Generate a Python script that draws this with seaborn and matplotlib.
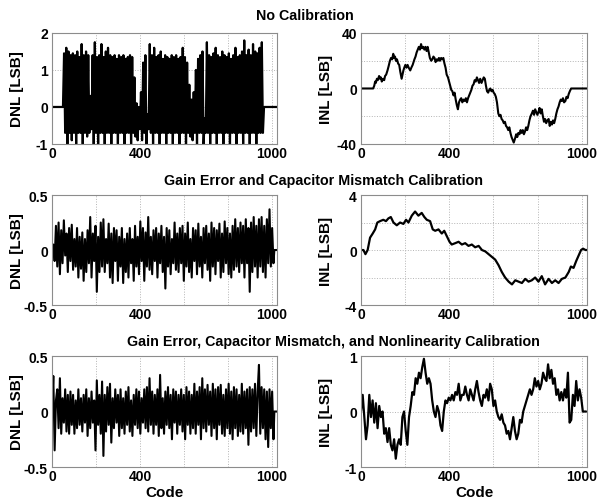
import numpy as np
import pandas as pd
import seaborn as sns
import matplotlib
matplotlib.use("Agg")
import matplotlib.pyplot as plt

sns.set_style("white")
plt.rcParams['font.family'] = ['Liberation Sans', 'DejaVu Sans']
plt.rcParams['font.weight'] = 'bold'
plt.rcParams['text.color'] = 'black'
plt.rcParams['axes.labelcolor'] = 'black'

# ---- row titles ----
ROW_TITLES = ["No Calibration",
              "Gain Error and Capacitor Mismatch Calibration",
              "Gain Error, Capacitor Mismatch, and Nonlinearity Calibration"]

# ---- x axis (codes) ----
XTICKS = [0, 200, 400, 600, 800, 1000]
XTICK_LABELS = ["0", "", "400", "", "", "1000"]

# ---- No calibration: DNL (codes 55..960 step 5, zero outside) ----
dnl_nocal = [
    1.45, -0.7, 1.6, -1.0, 1.5, -0.7, 1.4, -0.9, 1.45, -0.7,
    1.4, -1.0, 1.5, -0.7, 1.35, -0.7, 1.7, -1.0, 1.4, -0.7,
    1.5, -0.8, 1.4, -0.7, 0.3, -0.6, 1.4, -1.0, 1.75, -0.7,
    1.35, -1.0, 1.4, -0.7, 1.7, -0.7, 1.35, -1.0, 1.5, -0.7,
    1.6, -0.7, 1.4, -1.0, 1.35, -0.7, 1.4, -0.7, 1.3, -1.0,
    1.4, -0.7, 1.35, -0.7, 1.4, -1.0, 1.3, -0.7, 1.35, -0.7,
    1.4, -1.0, 1.35, -0.7, 0.8, -0.8, 0.1, -0.9, 0.0, -0.6,
    0.4, -0.9, 1.2, -0.7, 1.4, -1.0, -0.2, -0.6, 1.7, -0.7,
    1.4, -1.0, 1.6, -0.7, 1.35, -0.7, 1.4, -1.0, 1.5, -0.7,
    1.3, -0.7, 1.4, -1.0, 1.35, -0.7, 1.3, -0.7, 1.4, -1.0,
    1.35, -0.7, 1.4, -0.7, 1.3, -1.0, 1.35, -0.7, 1.6, -0.7,
    1.35, -1.0, 1.2, -0.7, 0.6, -0.8, 0.2, -0.9, 0.4, -0.7,
    1.0, -1.0, 1.3, -0.7, 1.4, -0.7, 1.5, -1.0, -0.3, -0.7,
    1.75, -0.7, 1.4, -1.0, 1.35, -0.7, 1.45, -0.7, 1.6, -1.0,
    1.4, -0.7, 1.35, -0.7, 1.5, -1.0, 1.4, -0.7, 1.35, -0.7,
    1.45, -1.0, 1.3, -0.7, 1.4, -0.7, 1.6, -1.0, 1.35, -0.7,
    1.4, -0.7, 1.5, -1.0, 1.8, -0.7, 1.4, -0.7, 1.55, -1.0,
    1.4, -0.7, 1.7, -0.7, 1.5, -1.0, 1.45, -0.7, 1.6, -0.7,
    1.75, -0.7]
dnl_nocal_code = [0, 50] + list(range(55, 965, 5)) + [965, 1024]
dnl_nocal = [0, 0] + dnl_nocal + [0, 0]

# ---- No calibration: INL ----
inl_nocal_code = [
    0, 55, 60, 64, 67, 72, 76, 82, 86, 90, 94, 100, 105, 109, 114, 120,
    125, 131, 136, 141, 146, 150, 154, 158, 163, 168, 173, 178, 184, 188,
    192, 196, 201, 206, 211, 216, 223, 228, 234, 238, 242, 247, 252, 257,
    262, 267, 272, 277, 282, 287, 292, 297, 302, 307, 312, 318, 323, 328,
    333, 338, 343, 348, 353, 358, 363, 368, 373, 378, 383, 388, 394, 399,
    404, 409, 414, 419, 424, 429, 434, 439, 444, 449, 454, 459, 464, 470,
    475, 480, 485, 490, 495, 500, 505, 510, 515, 520, 525, 530, 535, 540,
    546, 551, 556, 561, 566, 571, 576, 581, 586, 591, 596, 601, 606, 611,
    616, 622, 627, 632, 637, 642, 647, 652, 657, 662, 667, 672, 677, 682,
    687, 692, 698, 703, 708, 713, 718, 723, 728, 733, 738, 743, 748, 753,
    758, 763, 768, 774, 779, 784, 789, 794, 799, 804, 809, 814, 819, 824,
    829, 834, 839, 844, 850, 855, 860, 865, 870, 875, 880, 885, 890, 895,
    900, 905, 910, 915, 920, 926, 931, 936, 941, 946, 952, 1024]
inl_nocal = [
    0, 0, 2, 5, 4, 7, 6, 9, 7, 8, 5, 7, 6, 9, 10, 13,
    16, 20, 22, 21, 25, 22, 23, 20, 21, 18, 17, 12, 7, 10,
    13, 15, 17, 15, 17, 15, 13, 15, 17, 19, 21, 23, 26, 28,
    30, 28, 32, 29, 30, 28, 30, 27, 30, 26, 22, 20, 21, 23,
    22, 19, 21, 20, 22, 20, 22, 21, 22, 18, 15, 10, 8, 5,
    2, -1, -2, -5, -3, -8, -12, -15, -10, -8, -7, -10, -8, -9,
    -7, -10, -7, -5, -3, -1, 2, 3, 6, 5, 8, 6, 4, 7,
    4, 6, 8, 7, 2, -2, -3, -1, 0, -2, -1, -3, -4, -6,
    -10, -18, -20, -19, -22, -23, -25, -24, -27, -28, -30, -28, -32, -35,
    -37, -39, -36, -33, -35, -32, -33, -30, -32, -30, -33, -31, -28, -30,
    -27, -23, -20, -18, -16, -19, -15, -17, -19, -17, -14, -18, -15, -20,
    -24, -22, -25, -23, -22, -27, -24, -26, -23, -25, -22, -18, -15, -13,
    -10, -8, -9, -7, -10, -9, -6, -7, -4, -2, 0, 0]

# ---- Gain + cap mismatch calibration: DNL (codes 6..1008 step 6) ----
dnl_gc = [
    0.05, -0.1, 0.22, -0.15, 0.25, -0.22, 0.18, -0.12, 0.27, -0.05, 0.15, -0.2,
    0.2, -0.1, 0.23, -0.18, 0.1, -0.15, 0.2, -0.25, 0.12, -0.17, 0.16, -0.28,
    0.1, -0.2, 0.18, -0.12, 0.3, -0.25, 0.15, -0.1, 0.22, -0.38, 0.12, -0.2,
    0.25, -0.15, 0.28, -0.2, 0.1, -0.12, 0.24, -0.25, 0.15, -0.3, 0.2, -0.1,
    0.18, -0.28, 0.12, -0.15, 0.2, -0.3, 0.1, -0.2, 0.15, -0.25, 0.2, -0.12,
    0.1, -0.28, 0.22, -0.15, 0.12, -0.22, 0.26, -0.1, 0.2, -0.28, 0.16, -0.15,
    0.3, -0.18, 0.12, -0.22, 0.18, -0.1, 0.2, -0.25, 0.15, -0.12, 0.22, -0.2,
    0.12, -0.35, 0.2, -0.15, 0.18, -0.22, 0.1, -0.12, 0.25, -0.18, 0.15, -0.2,
    0.2, -0.12, 0.22, -0.28, 0.15, -0.15, 0.25, -0.2, 0.1, -0.25, 0.2, -0.1,
    0.18, -0.22, 0.24, -0.15, 0.12, -0.25, 0.2, -0.12, 0.22, -0.18, 0.15, -0.28,
    0.25, -0.15, 0.2, -0.22, 0.18, -0.1, 0.24, -0.25, 0.15, -0.2, 0.26, -0.12,
    0.2, -0.22, 0.15, -0.25, 0.22, -0.18, 0.28, -0.15, 0.2, -0.2, 0.25, -0.12,
    0.22, -0.25, 0.28, -0.12, 0.2, -0.38, 0.25, -0.2, 0.3, -0.15, 0.22, -0.25,
    0.28, -0.15, 0.3, -0.2, 0.22, -0.25, 0.28, -0.12, 0.37, -0.15, 0.2, -0.12]
dnl_gc_code = [0] + list(range(6, 1012, 6)) + [1012, 1024]
dnl_gc = [0] + dnl_gc + [0, 0]

# ---- Gain + cap mismatch calibration: INL ----
inl_gc_code = [0, 11, 20, 30, 41, 53, 64, 74, 86, 101,
               113, 124, 135, 147, 162, 177, 192, 204, 215, 230,
               245, 260, 275, 287, 298, 313, 325, 336, 351, 366,
               377, 389, 401, 411, 427, 442, 457, 472, 487, 502,
               517, 533, 548, 563, 578, 593, 608, 623, 638, 653,
               669, 684, 699, 714, 729, 744, 759, 774, 789, 804,
               819, 834, 850, 865, 880, 895, 910, 926, 941, 951,
               963, 975, 986, 997, 1006, 1017, 1024]
inl_gc = [0, 0, -0.3, 0, 0.9, 1.2, 1.5, 2.0, 2.1, 2.2,
          2.1, 2.3, 2.4, 2.0, 1.8, 2.0, 1.9, 2.2, 2.0, 2.5,
          2.8, 2.5, 2.7, 2.4, 2.2, 2.1, 1.5, 1.4, 1.5, 1.2,
          1.4, 1.0, 0.6, 0.4, 0.5, 0.6, 0.4, 0.5, 0.3, 0.4,
          0.2, 0.3, 0.0, -0.1, -0.3, -0.5, -0.7, -1.1, -1.6, -2.0,
          -2.3, -2.5, -2.2, -2.3, -2.4, -2.1, -2.3, -2.2, -2.0, -2.3,
          -1.9, -2.5, -2.1, -2.4, -2.2, -2.4, -2.1, -2.0, -1.6, -1.2,
          -1.3, -0.8, -0.4, 0.0, 0.1, 0.0, 0]

# ---- Full calibration: DNL (codes 6..1008 step 6) ----
dnl_full = [
    0.32, -0.35, 0.1, 0.2, -0.15, 0.3, -0.2, 0.12, -0.1, 0.2, -0.18, 0.15,
    -0.2, 0.18, -0.12, 0.15, -0.2, 0.1, -0.15, 0.2, -0.12, 0.12, -0.18, 0.15,
    -0.1, 0.2, -0.22, 0.12, -0.15, 0.18, -0.1, 0.1, -0.35, 0.28, -0.12, 0.15,
    -0.2, 0.27, -0.4, 0.15, -0.18, 0.22, -0.12, 0.25, -0.28, 0.12, -0.15, 0.2,
    -0.1, 0.15, -0.22, 0.2, -0.15, 0.12, -0.2, 0.18, -0.12, 0.22, -0.18, 0.1,
    -0.22, 0.15, -0.12, 0.2, -0.15, 0.18, -0.2, 0.12, -0.1, 0.2, -0.15, 0.22,
    -0.18, 0.3, -0.12, 0.18, -0.2, 0.15, -0.12, 0.2, -0.22, 0.33, -0.15, 0.12,
    -0.2, 0.18, -0.12, 0.22, -0.15, 0.15, -0.25, 0.2, -0.1, 0.18, -0.2, 0.15,
    -0.12, 0.2, -0.18, 0.15, -0.25, 0.22, -0.12, 0.18, -0.2, 0.15, -0.15, 0.25,
    -0.2, 0.18, -0.12, 0.22, -0.25, 0.3, -0.15, 0.2, -0.18, 0.24, -0.12, 0.18,
    -0.22, 0.25, -0.15, 0.2, -0.25, 0.22, -0.12, 0.24, -0.2, 0.15, -0.22, 0.2,
    -0.15, 0.25, -0.2, 0.18, -0.25, 0.22, -0.15, 0.2, -0.22, 0.15, -0.18, 0.25,
    -0.2, 0.18, -0.15, 0.2, -0.3, 0.22, -0.18, 0.2, -0.15, 0.25, -0.22, 0.18,
    0.42, -0.2, 0.22, -0.15, 0.2, -0.25, 0.18, -0.32, 0.2, -0.15, 0.18, -0.25]
dnl_full_code = [0] + list(range(6, 1012, 6)) + [1012, 1024]
dnl_full = [0] + dnl_full + [0, 0]

# ---- Full calibration: INL (read every 7.5 codes) ----
inl_full = [
    0, 0.3, -0.1, -0.5, -0.25, 0.3, -0.1, 0.2, -0.2, 0.15,
    -0.3, 0.1, -0.1, 0.0, -0.4, -0.3, -0.55, -0.3, -0.6, -0.7,
    -0.5, -0.85, -0.6, -0.5, -0.6, -0.1, 0.0, -0.35, -0.6, -0.1,
    0.1, 0.35, 0.3, 0.6, 0.5, 0.7, 0.6, 0.8, 0.95, 0.7,
    0.5, 0.6, 0.5, 0.2, 0.0, -0.1, 0.1, 0.0, -0.25, -0.35,
    0.0, 0.2, 0.15, 0.25, 0.2, 0.3, 0.2, 0.35, 0.3, 0.5,
    0.2, 0.3, 0.3, 0.45, 0.3, 0.2, 0.4, 0.3, 0.2, 0.4,
    0.55, 0.35, 0.2, 0.1, 0.3, 0.25, 0.4, 0.2, 0.5, 0.4,
    0.1, 0.2, 0.0, -0.1, -0.15, -0.05, -0.2, -0.25, -0.4, -0.35,
    -0.5, -0.3, -0.1, -0.35, -0.5, -0.4, -0.15, -0.2, 0.0, 0.1,
    0.2, 0.3, 0.4, 0.3, 0.4, 0.6, 0.45, 0.55, 0.4, 0.5,
    0.7, 0.6, 0.55, 0.85, 0.6, 0.75, 0.5, 0.6, 0.3, 0.4,
    0.2, 0.35, 0.2, 0.4, 0.25, 0.7, -0.2, -0.15, 0.3, 0.1,
    0.55, 0.2, 0.4, 0.25, 0.0, 0.0, 0.0]
inl_full_code = np.arange(len(inl_full)) * 7.5


def draw_panel(ax, x, y, ylim, yticks, yticklabels, ylabel, lw, xlabel=False):
    """Draw one DNL/INL panel in the black-on-white MATLAB look."""
    df = pd.DataFrame({"Code": x, "val": y})
    sns.lineplot(data=df, x="Code", y="val", ax=ax, color="black", lw=lw,
                 estimator=None, sort=False)
    ax.set_xlim(0, 1024)
    ax.set_ylim(ylim)
    ax.set_xticks(XTICKS)
    ax.set_xticklabels(XTICK_LABELS)
    ax.set_yticks(yticks)
    ax.set_yticklabels(yticklabels)
    ax.grid(True, ls=":", color="#b4b4b4", lw=0.7)
    ax.set_axisbelow(True)
    for s in ax.spines.values():
        s.set_color("#8c8c8c")
        s.set_linewidth(0.8)
    ax.tick_params(direction="in", length=3, color="#8c8c8c", labelsize=10,
                   labelcolor="black")
    ax.tick_params(axis="x", pad=1.5)
    ax.tick_params(axis="y", pad=3)
    ax.set_ylabel(ylabel, fontsize=11, fontweight="bold", color="black")
    ax.yaxis.set_label_coords(-0.124, 0.5)
    if xlabel:
        ax.set_xlabel("Code", fontsize=11, fontweight="bold", color="black")
        ax.xaxis.set_label_coords(0.5, -0.165)
    else:
        ax.set_xlabel("")


fig = plt.figure(figsize=(5.99, 5.02), dpi=100)
left_x, right_x = 0.0868, 0.6027
widths = [0.3756, 0.3773]
rows = [(0.7112, 0.2211), (0.3904, 0.2191), (0.0677, 0.2211)]

axes = []
for b, h in rows:
    axes.append((fig.add_axes([left_x, b, widths[0], h]),
                 fig.add_axes([right_x, b, widths[1], h])))

draw_panel(axes[0][0], dnl_nocal_code, dnl_nocal, (-1, 2), [-1, 0, 1, 2],
           ["-1", "0", "1", "2"], "DNL [LSB]", 1.6)
draw_panel(axes[0][1], inl_nocal_code, inl_nocal, (-40, 40), [-40, -20, 0, 20, 40],
           ["-40", "", "0", "", "40"], "INL [LSB]", 1.5)
draw_panel(axes[1][0], dnl_gc_code, dnl_gc, (-0.5, 0.5), [-0.5, 0, 0.5],
           ["-0.5", "0", "0.5"], "DNL [LSB]", 1.5)
draw_panel(axes[1][1], inl_gc_code, inl_gc, (-4, 4), [-4, -2, 0, 2, 4],
           ["-4", "", "0", "", "4"], "INL [LSB]", 1.6)
draw_panel(axes[2][0], dnl_full_code, dnl_full, (-0.5, 0.5), [-0.5, 0, 0.5],
           ["-0.5", "0", "0.5"], "DNL [LSB]", 1.5, xlabel=True)
draw_panel(axes[2][1], inl_full_code, inl_full, (-1, 1), [-1, 0, 1],
           ["-1", "0", "1"], "INL [LSB]", 1.6, xlabel=True)

title_pos = [(305 / 599, 1 - 20 / 502), (323 / 599, 1 - 185 / 502),
             (333 / 599, 1 - 346 / 502)]
for t, (tx, ty) in zip(ROW_TITLES, title_pos):
    fig.text(tx, ty, t, ha="center", va="baseline", fontsize=10.3,
             fontweight="bold", color="black")

fig.savefig("out.png", dpi=100, facecolor="white")
